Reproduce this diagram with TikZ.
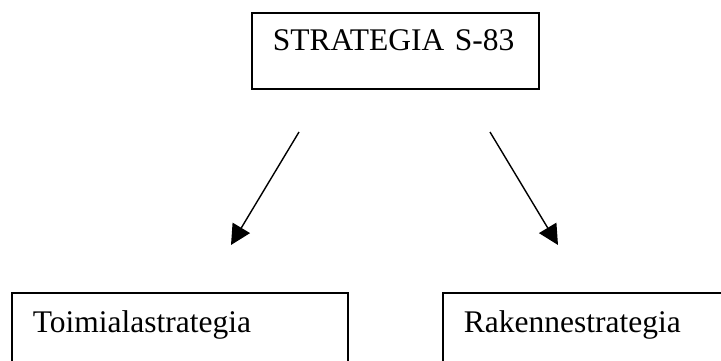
\documentclass[tikz,border=0pt]{standalone}
\usepackage{fontspec}
\setmainfont{Liberation Serif}
\usetikzlibrary{arrows.meta}

\tikzset{
  box/.style={draw, line width=1.8pt, anchor=north west, inner ysep=0pt,
    inner xsep=21pt, align=left, font=\fontsize{31.5}{36}\selectfont},
  link/.style={line width=1.4pt, -{Triangle[length=20pt,width=20pt]}}
}

\begin{document}
\begin{tikzpicture}[x=1pt,y=-1pt]
    \useasboundingbox (0,0) rectangle (721,361);
    \clip (0,0) rectangle (721,361);

    % top box
    \node[box, text width=245pt, text height=38pt, text depth=38pt] (strategia) at (251,12) {STRATEGIA S-83};

    % the two lower boxes, cut off at the bottom
    \node[box, text width=294pt, text height=40pt, text depth=60pt] (toimiala) at (11,292) {Toimialastrategia};
    \node[box, text width=294pt, text height=40pt, text depth=60pt] (rakenne) at (442,292) {Rakennestrategia};

    % arrows between the boxes
    \coordinate (l1) at (299,132);
    \coordinate (l2) at (231,245);
    \coordinate (r1) at (490,132);
    \coordinate (r2) at (558,245);
    \draw[link] (l1) -- (l2);
    \draw[link] (r1) -- (r2);

\end{tikzpicture}
\end{document}
